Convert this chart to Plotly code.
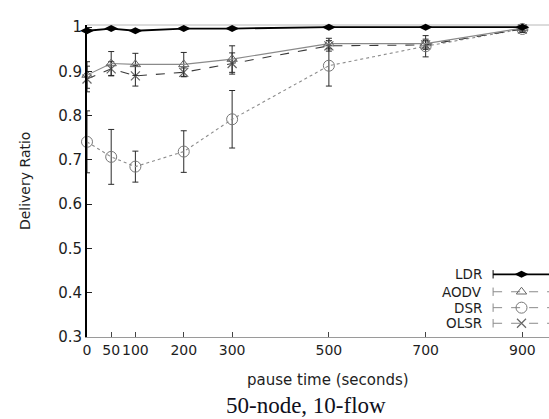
import plotly.graph_objects as go

# Pause time (seconds) and delivery ratio per protocol
pause_time = [0, 50, 100, 200, 300, 500, 700, 900]

ldr = [0.992, 0.997, 0.992, 0.997, 0.997, 1.0, 1.0, 1.0]
ldr_err = [0.002, 0.002, 0.002, 0.002, 0.002, 0.001, 0.001, 0.001]

aodv = [0.892, 0.918, 0.916, 0.916, 0.928, 0.963, 0.963, 0.998]
aodv_err = [0.030, 0.027, 0.025, 0.027, 0.030, 0.012, 0.010, 0.005]

dsr = [0.741, 0.707, 0.685, 0.719, 0.792, 0.913, 0.957, 0.996]
dsr_err = [0.070, 0.062, 0.035, 0.047, 0.065, 0.046, 0.024, 0.008]

olsr = [0.883, 0.906, 0.890, 0.898, 0.918, 0.958, 0.960, 0.996]
olsr_err = [0.029, 0.016, 0.023, 0.010, 0.024, 0.012, 0.010, 0.005]

series_names = ["LDR", "AODV", "DSR", "OLSR"]

y_ticks = [0.3, 0.4, 0.5, 0.6, 0.7, 0.8, 0.9, 1.0]
y_tick_text = ["0.3", "0.4", "0.5", "0.6", "0.7", "0.8", "0.9", "1"]
x_ticks = [0, 50, 100, 200, 300, 500, 700, 900]

SANS = "DejaVu Sans"
TXT = "#1e1e1e"

styles = {
    "LDR": dict(line=dict(color="black", width=1.8),
                marker=dict(symbol="diamond-wide", size=10, color="black")),
    "AODV": dict(line=dict(color="#8a8a8a", width=1.1),
                 marker=dict(symbol="triangle-up-open", size=9, color="#666",
                             line=dict(width=1))),
    "DSR": dict(line=dict(color="#8c8c8c", width=1.1, dash="dot"),
                marker=dict(symbol="circle-open", size=11, color="#777",
                            line=dict(width=1))),
    "OLSR": dict(line=dict(color="#3a3a3a", width=1.1, dash="dash"),
                 marker=dict(symbol="x-thin-open", size=9, color="#666",
                             line=dict(width=1.2))),
}

data = {"LDR": (ldr, ldr_err), "AODV": (aodv, aodv_err),
        "DSR": (dsr, dsr_err), "OLSR": (olsr, olsr_err)}

fig = go.Figure()

for name in ["DSR", "OLSR", "AODV", "LDR"]:
    vals, errs = data[name]
    st = styles[name]
    fig.add_trace(go.Scatter(
        x=pause_time, y=vals, mode="lines+markers", name=name,
        line=st["line"], marker=st["marker"],
        error_y=dict(type="data", array=errs, visible=True,
                     color="#2a2a2a", thickness=1, width=3),
        showlegend=False, cliponaxis=False,
    ))

# Key drawn gnuplot-style on an overlay axis in paper units:
# label right-aligned, followed by a sample line with its marker.
key_rows = [0.201, 0.145, 0.094, 0.044]
key_x0, key_xm, key_x1 = 0.879, 0.9405, 1.0
for name, yk in zip(series_names, key_rows):
    st = styles[name]
    kline = dict(st["line"])
    if name != "LDR":
        kline = dict(color="#8a8a8a", width=1, dash="dash")
    fig.add_trace(go.Scatter(
        x=[key_x0, key_x1], y=[yk, yk], mode="lines", line=kline,
        xaxis="x2", yaxis="y2", showlegend=False, hoverinfo="skip",
    ))
    fig.add_trace(go.Scatter(
        x=[key_x0], y=[yk], mode="markers",
        marker=dict(symbol="line-ns-open", size=6, color=kline["color"],
                    line=dict(color=kline["color"], width=1)),
        xaxis="x2", yaxis="y2", showlegend=False, hoverinfo="skip",
    ))
    fig.add_trace(go.Scatter(
        x=[key_xm], y=[yk], mode="markers", marker=st["marker"],
        xaxis="x2", yaxis="y2", showlegend=False, hoverinfo="skip",
    ))
    fig.add_annotation(
        x=0.857, y=yk, xref="paper", yref="paper", text=name,
        showarrow=False, xanchor="right", yanchor="middle", borderpad=0,
        font=dict(family=SANS, size=13.5, color=TXT),
    )

# Orange pointer above the plot
fig.add_trace(go.Scatter(
    x=[0.1396], y=[1.028], mode="markers",
    marker=dict(symbol="triangle-down", size=12, color="#f78a3c"),
    xaxis="x2", yaxis="y2", showlegend=False, hoverinfo="skip",
    cliponaxis=False,
))

# Top frame line
fig.add_shape(type="line", xref="paper", yref="paper", x0=0, x1=1, y0=1, y1=1,
              line=dict(color="#b8b8b8", width=1), layer="below")

fig.add_annotation(x=-0.134, y=0.5, xref="paper", yref="paper",
                   text="Delivery Ratio", textangle=-90, showarrow=False,
                   xanchor="center", yanchor="middle",
                   font=dict(family=SANS, size=14, color=TXT))
fig.add_annotation(x=0.522, y=-0.138, xref="paper", yref="paper",
                   text="pause time (seconds)", showarrow=False,
                   xanchor="center", yanchor="middle",
                   font=dict(family=SANS, size=15, color=TXT))
fig.add_annotation(x=0.475, y=-0.218, xref="paper", yref="paper",
                   text="50-node, 10-flow", showarrow=False,
                   xanchor="center", yanchor="middle", borderpad=0,
                   font=dict(family="Liberation Serif", size=23, color="#101020"))

fig.update_layout(
    width=549, height=419,
    margin=dict(l=87, r=0, t=25, b=82),
    paper_bgcolor="white", plot_bgcolor="white",
    xaxis=dict(range=[0, 955], tickvals=x_ticks, ticks="inside", ticklen=5,
               tickangle=0, tickcolor="#444", showline=True,
               linecolor="#9a9a9a", linewidth=1,
               showgrid=False, zeroline=False,
               tickfont=dict(family=SANS, size=14, color=TXT)),
    yaxis=dict(range=[0.3, 1.005], tickvals=y_ticks, ticktext=y_tick_text,
               ticks="inside", ticklen=5, tickcolor="#222",
               showline=True, linecolor="black", linewidth=2,
               showgrid=False, zeroline=False,
               tickfont=dict(family=SANS, size=15, color=TXT)),
    xaxis2=dict(range=[0, 1], overlaying="x", visible=False, fixedrange=True),
    yaxis2=dict(range=[0, 1], overlaying="y", visible=False, fixedrange=True),
)

fig.write_html("out.html")
